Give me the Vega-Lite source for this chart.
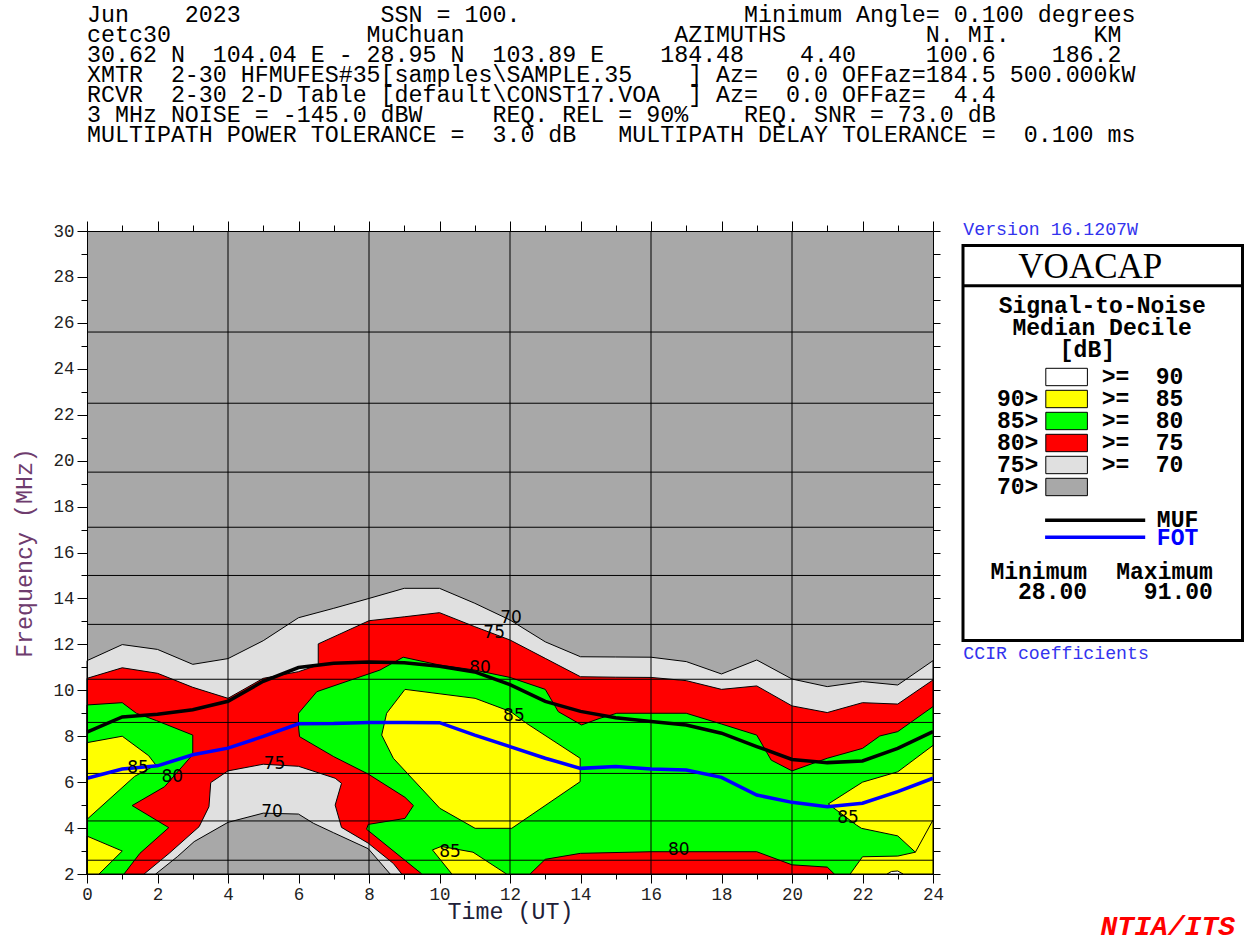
{
"$schema":"https://vega.github.io/schema/vega-lite/v6.json",
"width":846,"height":643,
"autosize":{"type":"none"},
"padding":{"left":87,"top":231,"right":311,"bottom":71},
"background":"white",
"config":{"view":{"fill":"#a8a8a8","stroke":null}},
"datasets":{
"poly":[
{"p":"LG","i":0,"h":0,"f":11.29},{"p":"LG","i":1,"h":1,"f":11.99},{"p":"LG","i":2,"h":2,"f":11.78},{"p":"LG","i":3,"h":3,"f":11.13},{"p":"LG","i":4,"h":4,"f":11.38},{"p":"LG","i":5,"h":5,"f":12.16},{"p":"LG","i":6,"h":6,"f":13.16},{"p":"LG","i":7,"h":7,"f":13.57},{"p":"LG","i":8,"h":8,"f":14.0},{"p":"LG","i":9,"h":9,"f":14.44},{"p":"LG","i":10,"h":10,"f":14.44},{"p":"LG","i":11,"h":11,"f":13.79},{"p":"LG","i":12,"h":12,"f":13.06},{"p":"LG","i":13,"h":13,"f":12.11},{"p":"LG","i":14,"h":14,"f":11.46},{"p":"LG","i":15,"h":15,"f":11.45},{"p":"LG","i":16,"h":16,"f":11.44},{"p":"LG","i":17,"h":17,"f":11.25},{"p":"LG","i":18,"h":18,"f":10.71},{"p":"LG","i":19,"h":19,"f":11.32},{"p":"LG","i":20,"h":20,"f":10.49},{"p":"LG","i":21,"h":21,"f":10.16},{"p":"LG","i":22,"h":22,"f":10.38},{"p":"LG","i":23,"h":23,"f":10.23},{"p":"LG","i":24,"h":24,"f":11.29},{"p":"LG","i":25,"h":24,"f":2},{"p":"LG","i":26,"h":0,"f":2},{"p":"LG","i":27,"h":0,"f":11.29},
{"p":"R","i":0,"h":0,"f":10.52},{"p":"R","i":1,"h":1,"f":10.98},{"p":"R","i":2,"h":2,"f":10.74},{"p":"R","i":3,"h":3,"f":10.13},{"p":"R","i":4,"h":4,"f":9.65},{"p":"R","i":5,"h":5,"f":10.52},{"p":"R","i":6,"h":6,"f":10.81},{"p":"R","i":7,"h":6.56,"f":11.1},{"p":"R","i":8,"h":6.56,"f":12.02},{"p":"R","i":9,"h":8,"f":13.03},{"p":"R","i":10,"h":9,"f":13.2},{"p":"R","i":11,"h":10,"f":13.38},{"p":"R","i":12,"h":11,"f":12.77},{"p":"R","i":13,"h":12,"f":12.19},{"p":"R","i":14,"h":13,"f":11.39},{"p":"R","i":15,"h":14,"f":10.59},{"p":"R","i":16,"h":15,"f":10.57},{"p":"R","i":17,"h":16,"f":10.56},{"p":"R","i":18,"h":17,"f":10.42},{"p":"R","i":19,"h":18,"f":10.04},{"p":"R","i":20,"h":19,"f":10.19},{"p":"R","i":21,"h":20,"f":9.32},{"p":"R","i":22,"h":21,"f":9.03},{"p":"R","i":23,"h":22,"f":9.46},{"p":"R","i":24,"h":23,"f":9.4},{"p":"R","i":25,"h":24,"f":10.45},{"p":"R","i":26,"h":24,"f":2},{"p":"R","i":27,"h":0,"f":2},{"p":"R","i":28,"h":0,"f":10.52},
{"p":"G1","i":0,"h":0,"f":9.36},{"p":"G1","i":1,"h":1.0,"f":9.46},{"p":"G1","i":2,"h":1.4,"f":9.0},{"p":"G1","i":3,"h":1.97,"f":8.68},{"p":"G1","i":4,"h":3.0,"f":8.05},{"p":"G1","i":5,"h":3.0,"f":7.2},{"p":"G1","i":6,"h":2.2,"f":5.8},{"p":"G1","i":7,"h":1.28,"f":4.98},{"p":"G1","i":8,"h":2.32,"f":4.02},{"p":"G1","i":9,"h":1.5,"f":2.9},{"p":"G1","i":10,"h":1.05,"f":2.0},{"p":"G1","i":11,"h":0,"f":2.0},{"p":"G1","i":12,"h":0,"f":9.36},
{"p":"G2","i":0,"h":6.52,"f":9.94},{"p":"G2","i":1,"h":8.31,"f":10.88},{"p":"G2","i":2,"h":8.97,"f":11.44},{"p":"G2","i":3,"h":10.0,"f":11.1},{"p":"G2","i":4,"h":11.0,"f":10.88},{"p":"G2","i":5,"h":12.0,"f":10.56},{"p":"G2","i":6,"h":13.0,"f":10.04},{"p":"G2","i":7,"h":13.37,"f":9.07},{"p":"G2","i":8,"h":14.03,"f":8.49},{"p":"G2","i":9,"h":14.55,"f":8.78},{"p":"G2","i":10,"h":15.03,"f":9.0},{"p":"G2","i":11,"h":17.0,"f":9.0},{"p":"G2","i":12,"h":18.0,"f":8.53},{"p":"G2","i":13,"h":19.0,"f":8.05},{"p":"G2","i":14,"h":19.41,"f":6.96},{"p":"G2","i":15,"h":20.0,"f":6.49},{"p":"G2","i":16,"h":21.0,"f":7.04},{"p":"G2","i":17,"h":22.0,"f":7.47},{"p":"G2","i":18,"h":22.49,"f":8.01},{"p":"G2","i":19,"h":23.0,"f":8.2},{"p":"G2","i":20,"h":24.0,"f":9.29},{"p":"G2","i":21,"h":24,"f":2},{"p":"G2","i":22,"h":9.5,"f":2},{"p":"G2","i":23,"h":7.93,"f":3.95},{"p":"G2","i":24,"h":7.98,"f":4.16},{"p":"G2","i":25,"h":9.02,"f":4.42},{"p":"G2","i":26,"h":9.26,"f":4.98},{"p":"G2","i":27,"h":9.02,"f":5.34},{"p":"G2","i":28,"h":7.98,"f":6.35},{"p":"G2","i":29,"h":7.0,"f":7.11},{"p":"G2","i":30,"h":6.03,"f":7.98},{"p":"G2","i":31,"h":6.0,"f":8.41},{"p":"G2","i":32,"h":6.0,"f":9.0},{"p":"G2","i":33,"h":6.52,"f":9.94},
{"p":"Y1","i":0,"h":0,"f":7.72},{"p":"Y1","i":1,"h":1.0,"f":8.0},{"p":"Y1","i":2,"h":1.75,"f":7.15},{"p":"Y1","i":3,"h":1.95,"f":6.75},{"p":"Y1","i":4,"h":1.35,"f":6.25},{"p":"Y1","i":5,"h":0,"f":4.38},{"p":"Y1","i":6,"h":0,"f":7.72},
{"p":"Y2","i":0,"h":0,"f":3.65},{"p":"Y2","i":1,"h":1.0,"f":3.0},{"p":"Y2","i":2,"h":0.34,"f":2.0},{"p":"Y2","i":3,"h":0,"f":2.0},{"p":"Y2","i":4,"h":0,"f":3.65},
{"p":"Y3","i":0,"h":9.02,"f":10.04},{"p":"Y3","i":1,"h":11.01,"f":9.65},{"p":"Y3","i":2,"h":12.02,"f":9.07},{"p":"Y3","i":3,"h":12.47,"f":8.56},{"p":"Y3","i":4,"h":13.99,"f":7.04},{"p":"Y3","i":5,"h":13.99,"f":6.02},{"p":"Y3","i":6,"h":12.05,"f":3.99},{"p":"Y3","i":7,"h":11.01,"f":3.99},{"p":"Y3","i":8,"h":10.01,"f":4.86},{"p":"Y3","i":9,"h":8.69,"f":7.04},{"p":"Y3","i":10,"h":8.36,"f":8.05},{"p":"Y3","i":11,"h":8.5,"f":9.0},{"p":"Y3","i":12,"h":9.02,"f":10.04},
{"p":"Y4","i":0,"h":9.8,"f":3.05},{"p":"Y4","i":1,"h":10.05,"f":3.2},{"p":"Y4","i":2,"h":10.95,"f":2.95},{"p":"Y4","i":3,"h":11.9,"f":2.0},{"p":"Y4","i":4,"h":10.35,"f":2.0},{"p":"Y4","i":5,"h":9.8,"f":3.05},
{"p":"Y5","i":0,"h":21.03,"f":5.05},{"p":"Y5","i":1,"h":22.0,"f":6.0},{"p":"Y5","i":2,"h":23.0,"f":6.45},{"p":"Y5","i":3,"h":24.0,"f":7.6},{"p":"Y5","i":4,"h":24,"f":2},{"p":"Y5","i":5,"h":21.65,"f":2.0},{"p":"Y5","i":6,"h":22.0,"f":2.75},{"p":"Y5","i":7,"h":23.0,"f":2.78},{"p":"Y5","i":8,"h":23.5,"f":2.95},{"p":"Y5","i":9,"h":23.0,"f":3.66},{"p":"Y5","i":10,"h":21.97,"f":3.99},{"p":"Y5","i":11,"h":21.83,"f":4.13},{"p":"Y5","i":12,"h":21.03,"f":5.05},
{"p":"R2","i":0,"h":12.57,"f":2},{"p":"R2","i":1,"h":13.0,"f":2.64},{"p":"R2","i":2,"h":14.0,"f":2.9},{"p":"R2","i":3,"h":16,"f":2.97},{"p":"R2","i":4,"h":19,"f":2.97},{"p":"R2","i":5,"h":20,"f":2.4},{"p":"R2","i":6,"h":21,"f":2.3},{"p":"R2","i":7,"h":21.2,"f":2.0},{"p":"R2","i":8,"h":12.57,"f":2},
{"p":"W","i":0,"h":22.7,"f":2.0},{"p":"W","i":1,"h":22.82,"f":2.11},{"p":"W","i":2,"h":23.0,"f":2.13},{"p":"W","i":3,"h":23.15,"f":2.0},{"p":"W","i":4,"h":22.7,"f":2.0},
{"p":"LG2","i":0,"h":1.62,"f":2.0},{"p":"LG2","i":1,"h":2.33,"f":2.9},{"p":"LG2","i":2,"h":3.18,"f":4.06},{"p":"LG2","i":3,"h":3.46,"f":4.93},{"p":"LG2","i":4,"h":3.51,"f":5.98},{"p":"LG2","i":5,"h":4.0,"f":6.49},{"p":"LG2","i":6,"h":5.0,"f":6.78},{"p":"LG2","i":7,"h":6.0,"f":6.69},{"p":"LG2","i":8,"h":7.04,"f":6.17},{"p":"LG2","i":9,"h":7.22,"f":5.95},{"p":"LG2","i":10,"h":7.04,"f":5.0},{"p":"LG2","i":11,"h":7.22,"f":4.03},{"p":"LG2","i":12,"h":7.98,"f":3.34},{"p":"LG2","i":13,"h":8.69,"f":2.46},{"p":"LG2","i":14,"h":8.93,"f":2.0},{"p":"LG2","i":15,"h":1.62,"f":2.0},
{"p":"GR2","i":0,"h":1.95,"f":2.0},{"p":"GR2","i":1,"h":2.56,"f":2.75},{"p":"GR2","i":2,"h":3.04,"f":3.41},{"p":"GR2","i":3,"h":4.0,"f":4.25},{"p":"GR2","i":4,"h":5.0,"f":4.65},{"p":"GR2","i":5,"h":6.0,"f":4.61},{"p":"GR2","i":6,"h":6.42,"f":4.21},{"p":"GR2","i":7,"h":6.99,"f":3.8},{"p":"GR2","i":8,"h":7.98,"f":3.1},{"p":"GR2","i":9,"h":8.6,"f":2.0},{"p":"GR2","i":10,"h":1.95,"f":2.0},
{"p":"S1","i":0,"h":23.5,"f":2.95},{"p":"S1","i":1,"h":24,"f":4.35}
],
"muf":[{"h":0,"f":8.18},{"h":1,"f":8.84},{"h":2,"f":8.96},{"h":3,"f":9.15},{"h":4,"f":9.52},{"h":5,"f":10.39},{"h":6,"f":10.99},{"h":7,"f":11.18},{"h":8,"f":11.23},{"h":9,"f":11.2},{"h":10,"f":11.05},{"h":11,"f":10.8},{"h":12,"f":10.25},{"h":13,"f":9.52},{"h":14,"f":9.08},{"h":15,"f":8.8},{"h":16,"f":8.64},{"h":17,"f":8.49},{"h":18,"f":8.13},{"h":19,"f":7.55},{"h":20,"f":6.99},{"h":21,"f":6.85},{"h":22,"f":6.92},{"h":23,"f":7.47},{"h":24,"f":8.2}],
"fot":[{"h":0,"f":6.17},{"h":1,"f":6.57},{"h":2,"f":6.71},{"h":3,"f":7.19},{"h":4,"f":7.48},{"h":5,"f":7.99},{"h":6,"f":8.54},{"h":7,"f":8.55},{"h":8,"f":8.6},{"h":9,"f":8.6},{"h":10,"f":8.59},{"h":11,"f":8.05},{"h":12,"f":7.55},{"h":13,"f":7.04},{"h":14,"f":6.6},{"h":15,"f":6.68},{"h":16,"f":6.57},{"h":17,"f":6.53},{"h":18,"f":6.21},{"h":19,"f":5.44},{"h":20,"f":5.12},{"h":21,"f":4.93},{"h":22,"f":5.08},{"h":23,"f":5.59},{"h":24,"f":6.17}],
"vg":[{"h":4},{"h":8},{"h":12},{"h":16},{"h":20}],
"hg":[{"f":25.6},{"f":22.5},{"f":19.5},{"f":17.1},{"f":15.0},{"f":12.87},{"f":10.48},{"f":8.6},{"f":6.38},{"f":4.31},{"f":2.6}],
"lab":[{"h":12.03,"f":13.15,"t":"70"},{"h":11.55,"f":12.5,"t":"75"},{"h":11.15,"f":10.97,"t":"80"},{"h":12.11,"f":8.88,"t":"85"},{"h":1.45,"f":6.62,"t":"85"},{"h":2.42,"f":6.22,"t":"80"},{"h":5.32,"f":6.79,"t":"75"},{"h":5.25,"f":4.7,"t":"70"},{"h":10.3,"f":2.96,"t":"85"},{"h":16.79,"f":3.05,"t":"80"},{"h":21.59,"f":4.44,"t":"85"}],
"one":[{"k":1}]
},
"layer":[
{"data":{"name":"poly"},"transform":[{"filter":{"field":"p","equal":"LG"}}],
 "mark":{"type":"line","fill":"#e0e0e0","stroke":"#000","strokeWidth":1},
 "encoding":{
  "x":{"field":"h","type":"quantitative","scale":{"domain":[0,24],"nice":false,"zero":false},
   "axis":{"orient":"bottom","values":[0,1,2,3,4,5,6,7,8,9,10,11,12,13,14,15,16,17,18,19,20,21,22,23,24],"labelExpr":"datum.value % 2 === 0 ? datum.label : ''","tickSize":{"condition":{"test":"datum.value % 2 === 0","value":9},"value":5},"tickColor":"#000","domainColor":"#000","labelFont":"Liberation Mono","labelFontSize":17.5,"labelColor":"#222","labelPadding":2,"labelFlush":false,"labelOverlap":false,"grid":false,"title":"Time (UT)","titleFont":"Liberation Mono","titleFontSize":23.3,"titleFontWeight":"normal","titleColor":"#202038","titleX":423,"titleY":37,"titleAlign":"center","titleBaseline":"middle","zindex":1}},
  "y":{"field":"f","type":"quantitative","scale":{"domain":[2,30],"nice":false,"zero":false},
   "axis":{"orient":"left","values":[2,3,4,5,6,7,8,9,10,11,12,13,14,15,16,17,18,19,20,21,22,23,24,25,26,27,28,29,30],"labelExpr":"datum.value % 2 === 0 ? datum.label : ''","tickSize":{"condition":{"test":"datum.value % 2 === 0","value":10},"value":6},"tickColor":"#000","domainColor":"#000","labelFont":"Liberation Mono","labelFontSize":17.5,"labelColor":"#222","labelPadding":3,"labelFlush":false,"labelOverlap":false,"grid":false,"title":"Frequency (MHz)","titleFont":"Liberation Mono","titleFontSize":23.3,"titleFontWeight":"normal","titleColor":"#6e3c6e","titleX":-63,"titleY":321.5,"titleAngle":-90,"titleAlign":"center","titleBaseline":"middle","zindex":1}},
  "order":{"field":"i","type":"quantitative"}}},
{"data":{"name":"poly"},"transform":[{"filter":{"field":"p","equal":"R"}}],
 "mark":{"type":"line","fill":"#ff0000","stroke":"#000","strokeWidth":1},
 "encoding":{
  "x":{"field":"h","type":"quantitative","scale":{"domain":[0,24],"nice":false,"zero":false},
   "axis":{"orient":"top","values":[0,1,2,3,4,5,6,7,8,9,10,11,12,13,14,15,16,17,18,19,20,21,22,23,24],"labels":false,"tickSize":{"condition":{"test":"datum.value % 2 === 0","value":10},"value":6},"tickColor":"#000","domainColor":"#000","grid":false,"title":null,"zindex":1}},
  "y":{"field":"f","type":"quantitative","scale":{"domain":[2,30],"nice":false,"zero":false},
   "axis":{"orient":"right","values":[2,3,4,5,6,7,8,9,10,11,12,13,14,15,16,17,18,19,20,21,22,23,24,25,26,27,28,29,30],"labels":false,"tickSize":7,"tickColor":"#000","domainColor":"#000","grid":false,"title":null,"zindex":1}},
  "order":{"field":"i","type":"quantitative"}}},
{"data":{"name":"poly"},"transform":[{"filter":{"field":"p","oneOf":["G1","G2"]}}],
 "mark":{"type":"line","fill":"#00ff00","stroke":"#000","strokeWidth":1},
 "encoding":{"x":{"field":"h","type":"quantitative","scale":{"domain":[0,24],"nice":false,"zero":false},"axis":null},"y":{"field":"f","type":"quantitative","scale":{"domain":[2,30],"nice":false,"zero":false},"axis":null},"detail":{"field":"p"},"order":{"field":"i","type":"quantitative"}}},
{"data":{"name":"poly"},"transform":[{"filter":{"field":"p","oneOf":["Y1","Y2","Y3","Y4","Y5"]}}],
 "mark":{"type":"line","fill":"#ffff00","stroke":"#000","strokeWidth":1},
 "encoding":{"x":{"field":"h","type":"quantitative","scale":{"domain":[0,24],"nice":false,"zero":false},"axis":null},"y":{"field":"f","type":"quantitative","scale":{"domain":[2,30],"nice":false,"zero":false},"axis":null},"detail":{"field":"p"},"order":{"field":"i","type":"quantitative"}}},
{"data":{"name":"poly"},"transform":[{"filter":{"field":"p","equal":"R2"}}],
 "mark":{"type":"line","fill":"#ff0000","stroke":"#000","strokeWidth":1},
 "encoding":{"x":{"field":"h","type":"quantitative","scale":{"domain":[0,24],"nice":false,"zero":false},"axis":null},"y":{"field":"f","type":"quantitative","scale":{"domain":[2,30],"nice":false,"zero":false},"axis":null},"order":{"field":"i","type":"quantitative"}}},
{"data":{"name":"poly"},"transform":[{"filter":{"field":"p","equal":"W"}}],
 "mark":{"type":"line","fill":"#ffffff","stroke":"#000","strokeWidth":1},
 "encoding":{"x":{"field":"h","type":"quantitative","scale":{"domain":[0,24],"nice":false,"zero":false},"axis":null},"y":{"field":"f","type":"quantitative","scale":{"domain":[2,30],"nice":false,"zero":false},"axis":null},"order":{"field":"i","type":"quantitative"}}},
{"data":{"name":"poly"},"transform":[{"filter":{"field":"p","equal":"LG2"}}],
 "mark":{"type":"line","fill":"#e0e0e0","stroke":"#000","strokeWidth":1},
 "encoding":{"x":{"field":"h","type":"quantitative","scale":{"domain":[0,24],"nice":false,"zero":false},"axis":null},"y":{"field":"f","type":"quantitative","scale":{"domain":[2,30],"nice":false,"zero":false},"axis":null},"order":{"field":"i","type":"quantitative"}}},
{"data":{"name":"poly"},"transform":[{"filter":{"field":"p","equal":"GR2"}}],
 "mark":{"type":"line","fill":"#a8a8a8","stroke":"#000","strokeWidth":1},
 "encoding":{"x":{"field":"h","type":"quantitative","scale":{"domain":[0,24],"nice":false,"zero":false},"axis":null},"y":{"field":"f","type":"quantitative","scale":{"domain":[2,30],"nice":false,"zero":false},"axis":null},"order":{"field":"i","type":"quantitative"}}},
{"data":{"name":"poly"},"transform":[{"filter":{"field":"p","equal":"S1"}}],
 "mark":{"type":"line","stroke":"#000","strokeWidth":1},
 "encoding":{"x":{"field":"h","type":"quantitative","scale":{"domain":[0,24],"nice":false,"zero":false},"axis":null},"y":{"field":"f","type":"quantitative","scale":{"domain":[2,30],"nice":false,"zero":false},"axis":null},"order":{"field":"i","type":"quantitative"}}},
{"data":{"name":"vg"},"mark":{"type":"rule","stroke":"#000","strokeWidth":1},
 "encoding":{"x":{"field":"h","type":"quantitative","scale":{"domain":[0,24],"nice":false,"zero":false},"axis":null},"y":{"datum":2,"type":"quantitative","scale":{"domain":[2,30],"nice":false,"zero":false},"axis":null},"y2":{"datum":30}}},
{"data":{"name":"hg"},"mark":{"type":"rule","stroke":"#000","strokeWidth":1},
 "encoding":{"y":{"field":"f","type":"quantitative","scale":{"domain":[2,30],"nice":false,"zero":false},"axis":null},"x":{"datum":0,"type":"quantitative","scale":{"domain":[0,24],"nice":false,"zero":false},"axis":null},"x2":{"datum":24}}},
{"data":{"name":"muf"},"mark":{"type":"line","stroke":"#000","strokeWidth":3.5},
 "encoding":{"x":{"field":"h","type":"quantitative","scale":{"domain":[0,24],"nice":false,"zero":false},"axis":null},"y":{"field":"f","type":"quantitative","scale":{"domain":[2,30],"nice":false,"zero":false},"axis":null}}},
{"data":{"name":"fot"},"mark":{"type":"line","stroke":"#0000ff","strokeWidth":3.5},
 "encoding":{"x":{"field":"h","type":"quantitative","scale":{"domain":[0,24],"nice":false,"zero":false},"axis":null},"y":{"field":"f","type":"quantitative","scale":{"domain":[2,30],"nice":false,"zero":false},"axis":null}}},
{"data":{"name":"lab"},"mark":{"type":"text","font":"DejaVu Sans","fontSize":17,"fill":"#000","align":"center","baseline":"middle"},
 "encoding":{"x":{"field":"h","type":"quantitative","scale":{"domain":[0,24],"nice":false,"zero":false},"axis":null},"y":{"field":"f","type":"quantitative","scale":{"domain":[2,30],"nice":false,"zero":false},"axis":null},"text":{"field":"t"}}},
{"data":{"name":"one"},"mark":{"type":"text","font":"Liberation Mono","fontSize":23.3,"fill":"#000","align":"left","baseline":"middle","lineHeight":20,
 "text":["Jun\u00a0\u00a0\u00a0\u00a02023\u00a0\u00a0\u00a0\u00a0\u00a0\u00a0\u00a0\u00a0\u00a0\u00a0SSN\u00a0=\u00a0100.\u00a0\u00a0\u00a0\u00a0\u00a0\u00a0\u00a0\u00a0\u00a0\u00a0\u00a0\u00a0\u00a0\u00a0\u00a0\u00a0Minimum\u00a0Angle=\u00a00.100\u00a0degrees",
 "cetc30\u00a0\u00a0\u00a0\u00a0\u00a0\u00a0\u00a0\u00a0\u00a0\u00a0\u00a0\u00a0\u00a0\u00a0MuChuan\u00a0\u00a0\u00a0\u00a0\u00a0\u00a0\u00a0\u00a0\u00a0\u00a0\u00a0\u00a0\u00a0\u00a0\u00a0AZIMUTHS\u00a0\u00a0\u00a0\u00a0\u00a0\u00a0\u00a0\u00a0\u00a0\u00a0N.\u00a0MI.\u00a0\u00a0\u00a0\u00a0\u00a0\u00a0KM",
 "30.62\u00a0N\u00a0\u00a0104.04\u00a0E\u00a0-\u00a028.95\u00a0N\u00a0\u00a0103.89\u00a0E\u00a0\u00a0\u00a0\u00a0184.48\u00a0\u00a0\u00a0\u00a04.40\u00a0\u00a0\u00a0\u00a0\u00a0100.6\u00a0\u00a0\u00a0\u00a0186.2",
 "XMTR\u00a0\u00a02-30\u00a0HFMUFES#35[samples\\SAMPLE.35\u00a0\u00a0\u00a0\u00a0]\u00a0Az=\u00a0\u00a00.0\u00a0OFFaz=184.5\u00a0500.000kW",
 "RCVR\u00a0\u00a02-30\u00a02-D\u00a0Table\u00a0[default\\CONST17.VOA\u00a0\u00a0]\u00a0Az=\u00a0\u00a00.0\u00a0OFFaz=\u00a0\u00a04.4",
 "3\u00a0MHz\u00a0NOISE\u00a0=\u00a0-145.0\u00a0dBW\u00a0\u00a0\u00a0\u00a0\u00a0REQ.\u00a0REL\u00a0=\u00a090%\u00a0\u00a0\u00a0\u00a0REQ.\u00a0SNR\u00a0=\u00a073.0\u00a0dB",
 "MULTIPATH\u00a0POWER\u00a0TOLERANCE\u00a0=\u00a0\u00a03.0\u00a0dB\u00a0\u00a0\u00a0MULTIPATH\u00a0DELAY\u00a0TOLERANCE\u00a0=\u00a0\u00a00.100\u00a0ms"]},
 "encoding":{"x":{"datum":0,"type":"quantitative","scale":{"domain":[0,24],"nice":false,"zero":false},"axis":null},"y":{"datum":39.406,"type":"quantitative","scale":{"domain":[2,30],"nice":false,"zero":false},"axis":null}}},
{"data":{"name":"one"},"mark":{"type":"text","font":"Liberation Mono","fontSize":18.2,"fill":"#3333ee","align":"left","baseline":"middle","text":"Version\u00a016.1207W"},
 "encoding":{"x":{"datum":24.86,"type":"quantitative","scale":{"domain":[0,24],"nice":false,"zero":false},"axis":null},"y":{"datum":30.044,"type":"quantitative","scale":{"domain":[2,30],"nice":false,"zero":false},"axis":null}}},
{"data":{"name":"one"},"mark":{"type":"text","font":"Liberation Mono","fontSize":18.2,"fill":"#3333ee","align":"left","baseline":"middle","text":"CCIR\u00a0coefficients"},
 "encoding":{"x":{"datum":24.86,"type":"quantitative","scale":{"domain":[0,24],"nice":false,"zero":false},"axis":null},"y":{"datum":11.567,"type":"quantitative","scale":{"domain":[2,30],"nice":false,"zero":false},"axis":null}}},
{"data":{"name":"one"},"mark":{"type":"rect","fill":"#ffffff","stroke":"#000","strokeWidth":3},
 "encoding":{"x":{"datum":24.851,"type":"quantitative","scale":{"domain":[0,24],"nice":false,"zero":false},"axis":null},"x2":{"datum":32.78},"y":{"datum":29.369,"type":"quantitative","scale":{"domain":[2,30],"nice":false,"zero":false},"axis":null},"y2":{"datum":12.168}}},
{"data":{"name":"one"},"mark":{"type":"rule","stroke":"#000","strokeWidth":3},
 "encoding":{"x":{"datum":24.851,"type":"quantitative","scale":{"domain":[0,24],"nice":false,"zero":false},"axis":null},"x2":{"datum":32.78},"y":{"datum":27.618,"type":"quantitative","scale":{"domain":[2,30],"nice":false,"zero":false},"axis":null}}},
{"data":{"name":"one"},"mark":{"type":"text","font":"Liberation Serif","fontSize":35,"fill":"#000","align":"center","baseline":"alphabetic","text":"VOACAP"},
 "encoding":{"x":{"datum":28.462,"type":"quantitative","scale":{"domain":[0,24],"nice":false,"zero":false},"axis":null},"y":{"datum":27.94,"type":"quantitative","scale":{"domain":[2,30],"nice":false,"zero":false},"axis":null}}},
{"data":{"name":"one"},"mark":{"type":"text","font":"Liberation Mono","fontSize":23,"fontWeight":"bold","fill":"#000","align":"center","baseline":"middle","lineHeight":22,"text":["Signal-to-Noise","Median\u00a0Decile"]},
 "encoding":{"x":{"datum":28.8,"type":"quantitative","scale":{"domain":[0,24],"nice":false,"zero":false},"axis":null},"y":{"datum":26.734,"type":"quantitative","scale":{"domain":[2,30],"nice":false,"zero":false},"axis":null}}},
{"data":{"name":"one"},"mark":{"type":"text","font":"Liberation Mono","fontSize":23,"fontWeight":"bold","fill":"#000","align":"center","baseline":"middle","text":"[dB]"},
 "encoding":{"x":{"datum":28.38,"type":"quantitative","scale":{"domain":[0,24],"nice":false,"zero":false},"axis":null},"y":{"datum":24.818,"type":"quantitative","scale":{"domain":[2,30],"nice":false,"zero":false},"axis":null}}},
{"data":{"name":"one"},"mark":{"type":"rect","fill":"#ffffff","stroke":"#000","strokeWidth":1},
 "encoding":{"x":{"datum":27.2,"type":"quantitative","scale":{"domain":[0,24],"nice":false,"zero":false},"axis":null},"x2":{"datum":28.38},"y":{"datum":24.021,"type":"quantitative","scale":{"domain":[2,30],"nice":false,"zero":false},"axis":null},"y2":{"datum":23.264}}},
{"data":{"name":"one"},"mark":{"type":"rect","fill":"#ffff00","stroke":"#000","strokeWidth":1},
 "encoding":{"x":{"datum":27.2,"type":"quantitative","scale":{"domain":[0,24],"nice":false,"zero":false},"axis":null},"x2":{"datum":28.38},"y":{"datum":23.063,"type":"quantitative","scale":{"domain":[2,30],"nice":false,"zero":false},"axis":null},"y2":{"datum":22.306}}},
{"data":{"name":"one"},"mark":{"type":"rect","fill":"#00ff00","stroke":"#000","strokeWidth":1},
 "encoding":{"x":{"datum":27.2,"type":"quantitative","scale":{"domain":[0,24],"nice":false,"zero":false},"axis":null},"x2":{"datum":28.38},"y":{"datum":22.105,"type":"quantitative","scale":{"domain":[2,30],"nice":false,"zero":false},"axis":null},"y2":{"datum":21.348}}},
{"data":{"name":"one"},"mark":{"type":"rect","fill":"#ff0000","stroke":"#000","strokeWidth":1},
 "encoding":{"x":{"datum":27.2,"type":"quantitative","scale":{"domain":[0,24],"nice":false,"zero":false},"axis":null},"x2":{"datum":28.38},"y":{"datum":21.147,"type":"quantitative","scale":{"domain":[2,30],"nice":false,"zero":false},"axis":null},"y2":{"datum":20.39}}},
{"data":{"name":"one"},"mark":{"type":"rect","fill":"#e0e0e0","stroke":"#000","strokeWidth":1},
 "encoding":{"x":{"datum":27.2,"type":"quantitative","scale":{"domain":[0,24],"nice":false,"zero":false},"axis":null},"x2":{"datum":28.38},"y":{"datum":20.189,"type":"quantitative","scale":{"domain":[2,30],"nice":false,"zero":false},"axis":null},"y2":{"datum":19.432}}},
{"data":{"name":"one"},"mark":{"type":"rect","fill":"#a8a8a8","stroke":"#000","strokeWidth":1},
 "encoding":{"x":{"datum":27.2,"type":"quantitative","scale":{"domain":[0,24],"nice":false,"zero":false},"axis":null},"x2":{"datum":28.38},"y":{"datum":19.231,"type":"quantitative","scale":{"domain":[2,30],"nice":false,"zero":false},"axis":null},"y2":{"datum":18.474}}},
{"data":{"name":"one"},"mark":{"type":"text","font":"Liberation Mono","fontSize":23,"fontWeight":"bold","fill":"#000","align":"right","baseline":"middle","lineHeight":22,"text":["90>","85>","80>","75>","70>"]},
 "encoding":{"x":{"datum":26.99,"type":"quantitative","scale":{"domain":[0,24],"nice":false,"zero":false},"axis":null},"y":{"datum":22.684,"type":"quantitative","scale":{"domain":[2,30],"nice":false,"zero":false},"axis":null}}},
{"data":{"name":"one"},"mark":{"type":"text","font":"Liberation Mono","fontSize":23,"fontWeight":"bold","fill":"#000","align":"left","baseline":"middle","lineHeight":22,"text":[">=",">=",">=",">=",">="]},
 "encoding":{"x":{"datum":28.786,"type":"quantitative","scale":{"domain":[0,24],"nice":false,"zero":false},"axis":null},"y":{"datum":23.643,"type":"quantitative","scale":{"domain":[2,30],"nice":false,"zero":false},"axis":null}}},
{"data":{"name":"one"},"mark":{"type":"text","font":"Liberation Mono","fontSize":23,"fontWeight":"bold","fill":"#000","align":"right","baseline":"middle","lineHeight":22,"text":["90","85","80","75","70"]},
 "encoding":{"x":{"datum":31.1,"type":"quantitative","scale":{"domain":[0,24],"nice":false,"zero":false},"axis":null},"y":{"datum":23.643,"type":"quantitative","scale":{"domain":[2,30],"nice":false,"zero":false},"axis":null}}},
{"data":{"name":"one"},"mark":{"type":"rule","stroke":"#000","strokeWidth":3.5},
 "encoding":{"x":{"datum":27.18,"type":"quantitative","scale":{"domain":[0,24],"nice":false,"zero":false},"axis":null},"x2":{"datum":30.02},"y":{"datum":17.402,"type":"quantitative","scale":{"domain":[2,30],"nice":false,"zero":false},"axis":null}}},
{"data":{"name":"one"},"mark":{"type":"rule","stroke":"#0000ff","strokeWidth":3.5},
 "encoding":{"x":{"datum":27.18,"type":"quantitative","scale":{"domain":[0,24],"nice":false,"zero":false},"axis":null},"x2":{"datum":30.02},"y":{"datum":16.662,"type":"quantitative","scale":{"domain":[2,30],"nice":false,"zero":false},"axis":null}}},
{"data":{"name":"one"},"mark":{"type":"text","font":"Liberation Mono","fontSize":23,"fontWeight":"bold","fill":"#000","align":"left","baseline":"middle","text":"MUF"},
 "encoding":{"x":{"datum":30.35,"type":"quantitative","scale":{"domain":[0,24],"nice":false,"zero":false},"axis":null},"y":{"datum":17.415,"type":"quantitative","scale":{"domain":[2,30],"nice":false,"zero":false},"axis":null}}},
{"data":{"name":"one"},"mark":{"type":"text","font":"Liberation Mono","fontSize":23,"fontWeight":"bold","fill":"#0000ff","align":"left","baseline":"middle","text":"FOT"},
 "encoding":{"x":{"datum":30.35,"type":"quantitative","scale":{"domain":[0,24],"nice":false,"zero":false},"axis":null},"y":{"datum":16.646,"type":"quantitative","scale":{"domain":[2,30],"nice":false,"zero":false},"axis":null}}},
{"data":{"name":"one"},"mark":{"type":"text","font":"Liberation Mono","fontSize":23,"fontWeight":"bold","fill":"#000","align":"right","baseline":"middle","lineHeight":19.4,"text":["Minimum","28.00"]},
 "encoding":{"x":{"datum":28.37,"type":"quantitative","scale":{"domain":[0,24],"nice":false,"zero":false},"axis":null},"y":{"datum":15.138,"type":"quantitative","scale":{"domain":[2,30],"nice":false,"zero":false},"axis":null}}},
{"data":{"name":"one"},"mark":{"type":"text","font":"Liberation Mono","fontSize":23,"fontWeight":"bold","fill":"#000","align":"right","baseline":"middle","lineHeight":19.4,"text":["Maximum","91.00"]},
 "encoding":{"x":{"datum":31.94,"type":"quantitative","scale":{"domain":[0,24],"nice":false,"zero":false},"axis":null},"y":{"datum":15.138,"type":"quantitative","scale":{"domain":[2,30],"nice":false,"zero":false},"axis":null}}},
{"data":{"name":"one"},"mark":{"type":"text","font":"Liberation Mono","fontSize":28,"fontWeight":"bold","fontStyle":"italic","fill":"#ff0000","align":"right","baseline":"middle","text":"NTIA/ITS"},
 "encoding":{"x":{"datum":32.567,"type":"quantitative","scale":{"domain":[0,24],"nice":false,"zero":false},"axis":null},"y":{"datum":-0.295,"type":"quantitative","scale":{"domain":[2,30],"nice":false,"zero":false},"axis":null}}}
],
"resolve":{"axis":{"x":"independent","y":"independent"}}
}
